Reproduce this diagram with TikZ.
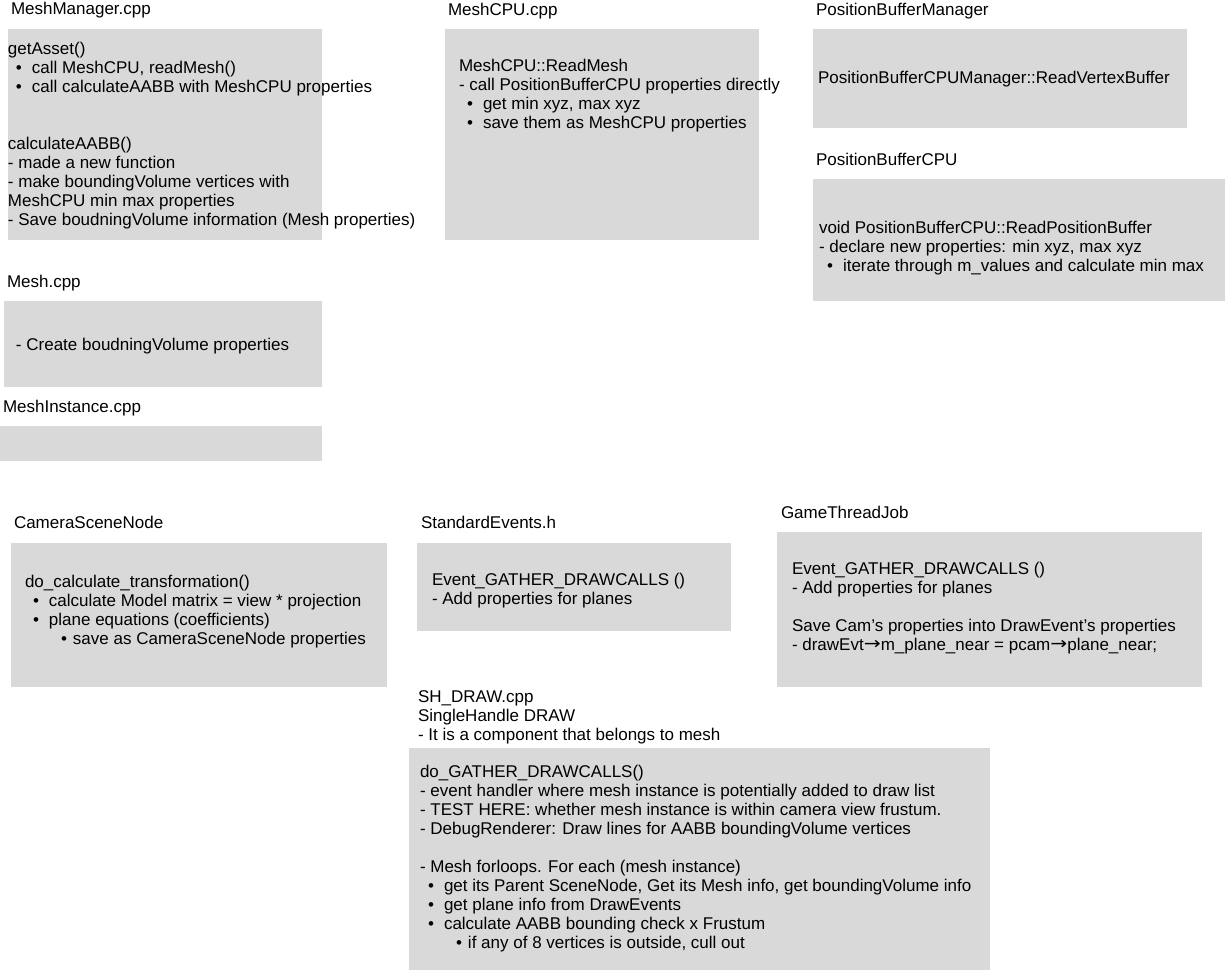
\documentclass[tikz,border=0pt]{standalone}
\usepackage{fontspec}
\setmainfont{Liberation Sans}
\newfontfamily\arrowfont{DejaVu Sans}
\definecolor{boxgray}{HTML}{D9D9D9}
\newcommand\bulA{\hspace*{8pt}\makebox[16pt][l]{•}}
\newcommand\bulB{\hspace*{36pt}\makebox[12pt][l]{•}}
\newcommand\rarr{\raisebox{0.5pt}{\scalebox{1.35}[1.15]{{\arrowfont\fontsize{15pt}{19pt}\selectfont →}}}}
\newcommand\lines[1]{\begin{tabular}[t]{@{}l@{}}#1\end{tabular}}
\tikzset{
  box/.style={fill=boxgray, draw=none, anchor=north west, inner sep=0pt, outer sep=0pt},
  txt/.style={anchor=base west, inner sep=0pt, outer sep=0pt, text=black,
    font=\fontsize{17pt}{19pt}\selectfont},
}
\begin{document}
\begin{tikzpicture}[x=1pt,y=-1pt]
\path[fill=white] (0,0) rectangle (1225,970);
\useasboundingbox (0,0) rectangle (1225,970);

% ---------- boxes ----------
\node[box, minimum width=314pt, minimum height=211pt] (mmbox) at (8,29) {};
\node[box, minimum width=314pt, minimum height=211pt] (cpubox) at (445,29) {};
\node[box, minimum width=374pt, minimum height=99pt] (pbmbox) at (813,29) {};
\node[box, minimum width=412pt, minimum height=122pt] (pbcbox) at (813,179) {};
\node[box, minimum width=318pt, minimum height=86pt] (meshbox) at (4,301) {};
\node[box, minimum width=322pt, minimum height=35pt] (mibox) at (0,426) {};
\node[box, minimum width=376pt, minimum height=144pt] (cambox) at (11,543) {};
\node[box, minimum width=314pt, minimum height=88pt] (sebox) at (417,543) {};
\node[box, minimum width=425pt, minimum height=155pt] (gtbox) at (777,532) {};
\node[box, minimum width=581pt, minimum height=222pt] (shbox) at (409,748) {};

% ---------- titles ----------
\node[txt] (mmtitle) at (11,14) {MeshManager.cpp};
\node[txt] (cputitle) at (448,15) {MeshCPU.cpp};
\node[txt] (pbmtitle) at (816,15) {PositionBufferManager};
\node[txt] (pbctitle) at (816,165) {PositionBufferCPU};
\node[txt] (meshtitle) at (7,287) {Mesh.cpp};
\node[txt] (mititle) at (3,412) {MeshInstance.cpp};
\node[txt] (camtitle) at (14,528) {CameraSceneNode};
\node[txt] (setitle) at (421,528) {StandardEvents.h};
\node[txt] (gttitle) at (781,518) {GameThreadJob};
\node[txt] (shtitle) at (418,702) {\lines{SH\_DRAW.cpp\\SingleHandle DRAW\\- It is a component that belongs to mesh}};

% ---------- contents ----------
\node[txt] (mmtext) at (8,54) {\lines{getAsset()\\
\bulA call MeshCPU, readMesh()\\
\bulA call calculateAABB with MeshCPU properties\\[38pt]
calculateAABB()\\
- made a new function\\
- make boundingVolume vertices with\\
MeshCPU min max properties\\
- Save boudningVolume information (Mesh properties)}};

\node[txt] (cputext) at (459,71) {\lines{MeshCPU::ReadMesh\\
- call PositionBufferCPU properties directly\\
\bulA get min xyz, max xyz\\
\bulA save them as MeshCPU properties}};

\node[txt] (pbmtext) at (818,83) {PositionBufferCPUManager::ReadVertexBuffer};

\node[txt] (pbctext) at (819,233) {\lines{void PositionBufferCPU::ReadPositionBuffer\\
- declare new properties: min xyz, max xyz\\
\bulA iterate through m\_values and calculate min max}};

\node[txt] (meshtext) at (16,350) {- Create boudningVolume properties};

\node[txt] (camtext) at (25,587) {\lines{do\_calculate\_transformation()\\
\bulA calculate Model matrix = view * projection\\
\bulA plane equations (coefficients)\\
\bulB save as CameraSceneNode properties}};

\node[txt] (setext) at (432,585) {\lines{Event\_GATHER\_DRAWCALLS ()\\
- Add properties for planes}};

\node[txt] (gttext) at (792,574) {\lines{Event\_GATHER\_DRAWCALLS ()\\
- Add properties for planes\\[19pt]
Save Cam’s properties into DrawEvent’s properties\\
- drawEvt\rarr m\_plane\_near = pcam\rarr plane\_near;}};

\node[txt] (shtext) at (420,777) {\lines{do\_GATHER\_DRAWCALLS()\\
- event handler where mesh instance is potentially added to draw list\\
- TEST HERE: whether mesh instance is within camera view frustum.\\
- DebugRenderer: Draw lines for AABB boundingVolume vertices\\[19pt]
- Mesh forloops. For each (mesh instance)\\
\bulA get its Parent SceneNode, Get its Mesh info, get boundingVolume info\\
\bulA get plane info from DrawEvents\\
\bulA calculate AABB bounding check x Frustum\\
\bulB if any of 8 vertices is outside, cull out}};
\end{tikzpicture}
\end{document}
